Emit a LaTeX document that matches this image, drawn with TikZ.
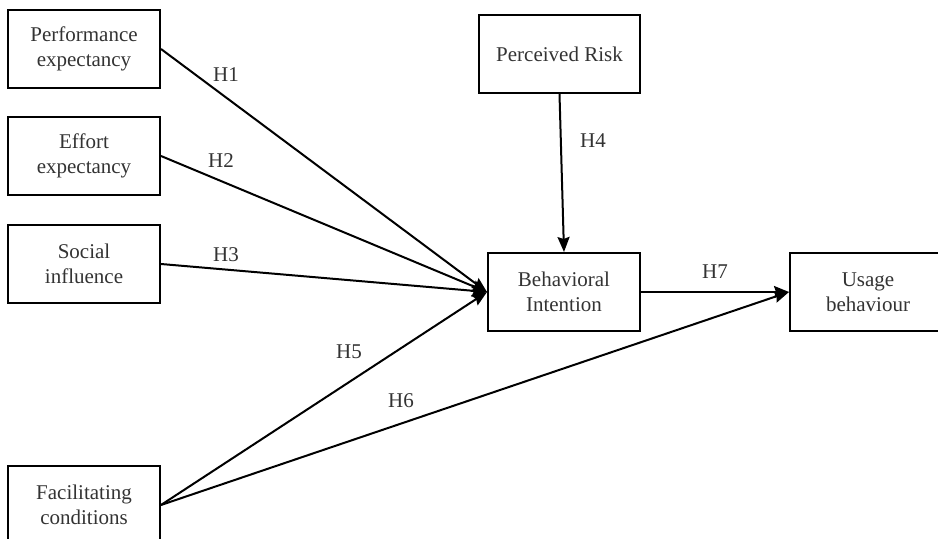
\documentclass[tikz,border=0pt]{standalone}
\usepackage{fontspec}
\setmainfont{Liberation Serif}
\usetikzlibrary{arrows.meta}
\definecolor{txtgray}{HTML}{333333}

\begin{document}
\begin{tikzpicture}[x = 0.5pt, y = -0.5pt,
		box/.style = {draw, line width = 1pt, rectangle, minimum width = 76pt, minimum height = 39pt,
			inner sep = 0pt, align = center, text = txtgray, font = \fontsize{10.5}{12.5}\selectfont},
		hyp/.style = {text = txtgray, font = \fontsize{10.5}{12.5}\selectfont, inner sep = 0pt},
		link/.style = {line width = 1pt, -{Stealth[length = 7.5pt, width = 6pt, inset = 1pt]}}]
		\useasboundingbox (0, 0) rectangle (938, 539);
		% constructs on the left
		\node[box] (pe) at (84, 49) {Performance\\expectancy};
		\node[box] (ee) at (84, 156) {Effort\\expectancy};
		\node[box] (si) at (84, 264) {Social\\influence};
		\node[box] (fc) at (84, 505) {Facilitating\\conditions};
		% moderator, intention and behaviour
		\node[box, minimum width = 80.5pt] (pr) at (559.5, 54) {Perceived Risk};
		\node[box] (bi) at (564, 292) {Behavioral\\Intention};
		\node[box, minimum width = 78pt] (ub) at (868, 292) {Usage\\behaviour};
		% hypotheses
		\foreach \src in {pe, ee, si, fc}
			\draw[link] (\src.east) -- (bi.west);
		\draw[link] (pr.south) -- (bi.north);
		\draw[link] (bi.east) -- (ub.west);
		\draw[link] (fc.east) -- (ub.west);
		\foreach \h/\x/\y in {1/226/75, 2/221/161, 3/226/255, 4/593/141, 5/349/352, 6/401/401, 7/715/272}
			\node[hyp] (h\h) at (\x, \y) {H\h};
	\end{tikzpicture}
\end{document}
